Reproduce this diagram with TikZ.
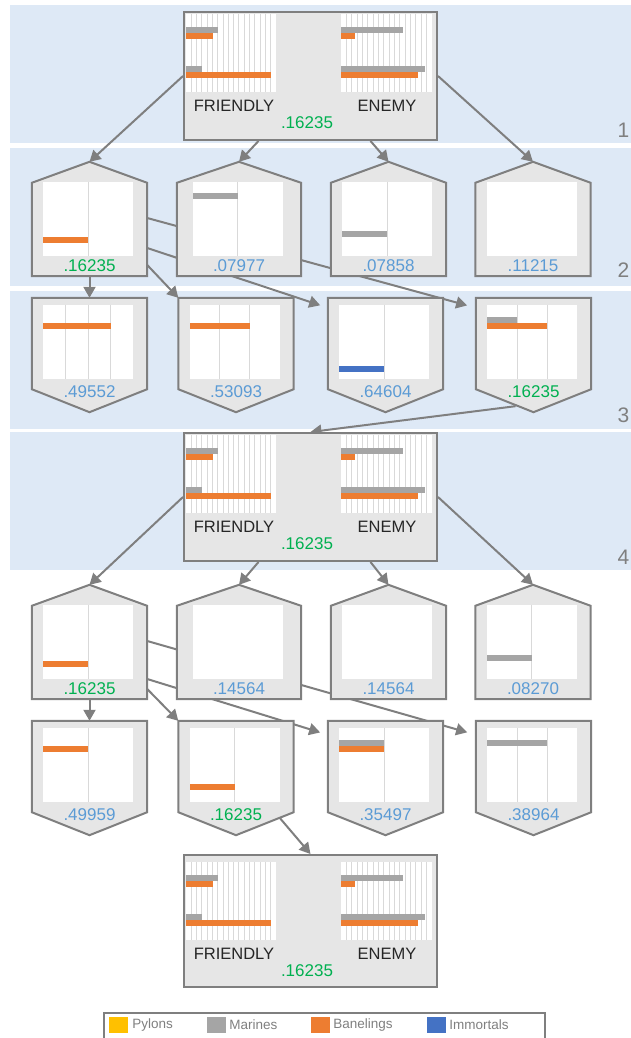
\documentclass[tikz,border=0pt]{standalone}
\usepackage{fontspec}
\setmainfont{Liberation Sans}
\usetikzlibrary{arrows.meta, calc, positioning}
\definecolor{edgegray}{RGB}{127,127,127}
\definecolor{boxfill}{RGB}{230,230,230}
\definecolor{bandblue}{RGB}{222,233,246}
\definecolor{gridline}{RGB}{217,217,217}
\definecolor{pylon}{RGB}{255,192,0}
\definecolor{marine}{RGB}{165,165,165}
\definecolor{baneling}{RGB}{237,125,49}
\definecolor{immortal}{RGB}{68,114,196}
\definecolor{bestval}{RGB}{0,176,80}
\definecolor{otherval}{RGB}{91,155,213}
\pgfdeclarelayer{back}
\pgfdeclarelayer{links}
\pgfsetlayers{back,links,main}
\tikzset{
    x=1pt, y=-1pt, % one unit is one pixel, y runs downwards
    edge/.style = {draw=edgegray, line width=2pt, -{Triangle[length=11pt,width=12pt]}},
    bigbox/.style = {draw=edgegray, fill=boxfill, line width=2pt, minimum width=253pt, minimum height=128pt, inner sep=0pt},
    slot/.style = {minimum width=115pt, minimum height=114pt, inner sep=0pt}, % invisible frame of a pentagon state
    wideslot/.style = {slot, minimum width=124pt},
    house/.style = {draw=edgegray, fill=boxfill, line width=2pt},
    gridrule/.style = {draw=gridline, line width=1pt},
    val/.style = {font=\fontsize{17}{18}\selectfont, text=otherval, inner sep=0pt},
    best/.style = {val, text=bestval},
    side/.style = {font=\fontsize{16.5}{18}\selectfont, text=black!85, inner sep=0pt},
    rownum/.style = {font=\fontsize{21}{21}\selectfont, text=edgegray, inner sep=0pt},
    band/.style = {fill=bandblue},
    key/.style = {minimum width=19pt, minimum height=16pt, inner sep=0pt},
    keytext/.style = {font=\fontsize{13.5}{14}\selectfont, text=edgegray, inner sep=0pt},
    legframe/.style = {draw=edgegray, line width=2pt}
}
% white plot area with vertical rules: left, top, width, height, columns
\newcommand{\chart}[5]{%
  \fill[white] (#1,#2) rectangle ++(#3,#4);
  \ifnum#5>1
    \pgfmathtruncatemacro{\lastcol}{#5-1}
    \foreach \k in {1,...,\lastcol}
      \draw[gridrule] ({#1+\k*#3/#5},#2) -- ++(0,#4);
  \fi
}
\newcommand{\uphouse}[2]{%
  \draw[house] (#1.south west) -- (#1.south east) -- ([yshift=-21pt]#1.north east)
    -- (#1.north) -- ([yshift=-21pt]#1.north west) -- cycle;
  \begin{scope}[shift={(#1.north)}]
    \chart{-46.5}{20}{90}{74}{#2}
  \end{scope}}
\newcommand{\downhouse}[2]{%
  \draw[house] (#1.north west) -- (#1.north east) -- ([yshift=23pt]#1.south east)
    -- (#1.south) -- ([yshift=23pt]#1.south west) -- cycle;
  \begin{scope}[shift={(#1.north)}]
    \chart{-46.5}{7}{90}{74}{#2}
  \end{scope}}
% node, colour, offset below the top, length
\newcommand{\putbar}[4]{\fill[#2] ($(#1.north)+(-46.5,#3)$) rectangle ++(#4,6);}
% contents of a big state: node, extra shift down
\newcommand{\bigpanel}[2]{%
  \begin{scope}[shift={($(#1.north west)+(0,#2)$)}]
    \chart{3}{3}{90}{78}{17}
    \chart{158}{3}{91}{78}{17}
    \fill[marine] (3,16) rectangle ++(32,6);
    \fill[baneling] (3,22) rectangle ++(27,6);
    \fill[marine] (3,55) rectangle ++(16,6);
    \fill[baneling] (3,61) rectangle ++(85,6);
    \fill[marine] (158,16) rectangle ++(62,6);
    \fill[baneling] (158,22) rectangle ++(14,6);
    \fill[marine] (158,55) rectangle ++(84,6);
    \fill[baneling] (158,61) rectangle ++(77,6);
  \end{scope}
  \node[side] (#1-f) at ($(#1.north west)+(51,95+#2)$) {FRIENDLY};
  \node[side] (#1-e) at ($(#1.north west)+(204,95+#2)$) {ENEMY};
  \node[best] (#1-v) at ($(#1.north west)+(124,112+#2)$) {.16235};}
\begin{document}
\begin{tikzpicture}
  \useasboundingbox (0,0) rectangle (631,1038);
  \begin{pgfonlayer}{back}
    \foreach \t/\b in {5/143, 148/286, 291/429, 432/570}
      \fill[band] (10,\t) rectangle (631,\b);
  \end{pgfonlayer}
  \node[rownum] (lv1) at (623.5,130) {1};
  \node[rownum] (lv2) at (623.5,270) {2};
  \node[rownum] (lv3) at (623.5,415) {3};
  \node[rownum] (lv4) at (623.5,557) {4};

  % states
  \node[bigbox] (top) at (310.5,76) {};
  \node[slot] (r2a) at (89.5,219) {};
  \node[wideslot] (r2b) at (239,219) {};
  \node[slot] (r2c) at (388.5,219) {};
  \node[slot] (r2d) at (533,219) {};
  \node[slot] (r3a) at (89.5,355) {};
  \node[slot] (r3b) at (236,355) {};
  \node[slot] (r3c) at (385.5,355) {};
  \node[slot] (r3d) at (533.5,355) {};
  \node[bigbox] (mid) at (310.5,497) {};
  \node[slot] (r5a) at (89.5,642) {};
  \node[wideslot] (r5b) at (239,642) {};
  \node[slot] (r5c) at (388.5,642) {};
  \node[slot] (r5d) at (533,642) {};
  \node[slot] (r6a) at (89.5,778) {};
  \node[slot] (r6b) at (236,778) {};
  \node[slot] (r6c) at (385.5,778) {};
  \node[slot] (r6d) at (533.5,778) {};
  \node[bigbox, minimum height=132pt] (bot) at (310.5,921) {};

  \begin{pgfonlayer}{links}
    \draw[edge] (top.west) -- (r2a.north);
    \draw[edge] ($(top.south)+(-52,0)$) -- (r2b.north);
    \draw[edge] ($(top.south)+(60,0)$) -- (r2c.north);
    \draw[edge] (top.east) -- (r2d.north);
    \draw[edge] (r2a.south) -- (r3a.north);
    \draw[edge] ($(r2a.east)+(0,46)$) -- (r3b.north west);
    \draw[edge, shorten >=8pt] ($(r2a.east)+(0,29)$) -- ($(r3c.north west)+(0,10)$);
    \draw[edge, shorten >=9pt] ($(r2a.east)+(0,-1)$) -- ($(r3d.north west)+(0,10)$);
    \draw[edge] ($(r3d.south)+(-18,-6)$) -- (mid.north);
    \draw[edge] (mid.west) -- (r5a.north);
    \draw[edge] ($(mid.south)+(-52,0)$) -- (r5b.north);
    \draw[edge] ($(mid.south)+(60,0)$) -- (r5c.north);
    \draw[edge] (mid.east) -- (r5d.north);
    \draw[edge] (r5a.south) -- (r6a.north);
    \draw[edge] ($(r5a.east)+(0,47)$) -- (r6b.north west);
    \draw[edge, shorten >=8pt] ($(r5a.east)+(0,37)$) -- ($(r6c.north west)+(0,14)$);
    \draw[edge, shorten >=9pt] ($(r5a.east)+(0,-1)$) -- ($(r6d.north west)+(0,14)$);
    \draw[edge] ($(r6b.south)+(44,-17)$) -- (bot.north);
  \end{pgfonlayer}

  \bigpanel{top}{0}
  \bigpanel{mid}{0}
  \bigpanel{bot}{5}

  \foreach \n/\c in {r2a/2, r2b/2, r2c/2, r2d/1, r5a/2, r5b/1, r5c/1, r5d/2}
    \uphouse{\n}{\c};
  \foreach \n/\c in {r3a/4, r3b/3, r3c/2, r3d/3, r6a/2, r6b/2, r6c/2, r6d/3}
    \downhouse{\n}{\c};

  \putbar{r2a}{baneling}{75}{45}
  \putbar{r2b}{marine}{31}{45}
  \putbar{r2c}{marine}{69}{45}
  \putbar{r3a}{baneling}{25}{68}
  \putbar{r3b}{baneling}{25}{60}
  \putbar{r3c}{immortal}{68}{45}
  \putbar{r3d}{marine}{19}{30}
  \putbar{r3d}{baneling}{25}{60}
  \putbar{r5a}{baneling}{76}{45}
  \putbar{r5d}{marine}{70}{45}
  \putbar{r6a}{baneling}{25}{45}
  \putbar{r6b}{baneling}{63}{45}
  \putbar{r6c}{marine}{19}{45}
  \putbar{r6c}{baneling}{25}{45}
  \putbar{r6d}{marine}{19}{60}

  \foreach \n/\v/\c in {r2a/.16235/bestval, r2b/.07977/otherval, r2c/.07858/otherval, r2d/.11215/otherval,
      r5a/.16235/bestval, r5b/.14564/otherval, r5c/.14564/otherval, r5d/.08270/otherval}
    \node[val, text=\c] (\n-v) at ($(\n.south)+(0,-11)$) {\v};
  \foreach \n/\v/\c in {r3a/.49552/otherval, r3b/.53093/otherval, r3c/.64604/otherval, r3d/.16235/bestval,
      r6a/.49959/otherval, r6b/.16235/bestval, r6c/.35497/otherval, r6d/.38964/otherval}
    \node[val, text=\c] (\n-v) at ($(\n.south)+(0,-21)$) {\v};

  % legend
  \draw[legframe] (104,1040) |- (545,1013) -- (545,1040);
  \node[key, fill=pylon] (kp) at (118.5,1025) {};
  \node[keytext, right=4pt of kp] (tp) {Pylons};
  \node[key, fill=marine] (km) at (216.5,1025) {};
  \node[keytext, right=3pt of km] (tm) {Marines};
  \node[key, fill=baneling] (kb) at (320.5,1025) {};
  \node[keytext, right=3pt of kb] (tb) {Banelings};
  \node[key, fill=immortal] (ki) at (436.5,1025) {};
  \node[keytext, right=3pt of ki] (ti) {Immortals};
\end{tikzpicture}
\end{document}
